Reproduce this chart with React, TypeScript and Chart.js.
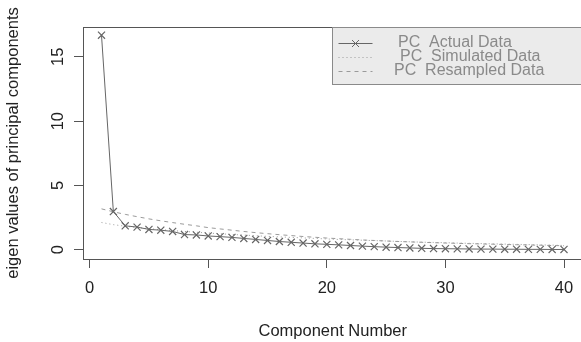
import { useEffect, useRef } from 'react';
import { Chart, registerables } from 'chart.js';

Chart.register(...registerables);

const components = [1, 2, 3, 4, 5, 6, 7, 8, 9, 10, 11, 12, 13, 14, 15, 16, 17, 18, 19, 20, 21, 22, 23, 24, 25, 26, 27, 28, 29, 30, 31, 32, 33, 34, 35, 36, 37, 38, 39, 40];
const actualData = [16.68, 2.97, 1.86, 1.76, 1.58, 1.52, 1.42, 1.18, 1.15, 1.07, 1.02, 0.96, 0.88, 0.8, 0.72, 0.64, 0.58, 0.52, 0.46, 0.42, 0.38, 0.33, 0.28, 0.24, 0.2, 0.17, 0.14, 0.11, 0.09, 0.08, 0.07, 0.06, 0.05, 0.05, 0.04, 0.04, 0.03, 0.03, 0.02, 0.02];
const simulatedData = [2.12, 1.95, 1.83, 1.73, 1.64, 1.56, 1.49, 1.42, 1.36, 1.3, 1.24, 1.19, 1.14, 1.09, 1.04, 1.0, 0.96, 0.92, 0.88, 0.84, 0.8, 0.77, 0.74, 0.71, 0.68, 0.65, 0.62, 0.59, 0.57, 0.55, 0.52, 0.5, 0.48, 0.46, 0.44, 0.42, 0.4, 0.38, 0.36, 0.33];
const resampledData = [3.18, 2.95, 2.75, 2.57, 2.4, 2.25, 2.11, 1.98, 1.86, 1.72, 1.62, 1.52, 1.42, 1.33, 1.25, 1.17, 1.1, 1.03, 0.97, 0.91, 0.86, 0.81, 0.76, 0.72, 0.68, 0.64, 0.61, 0.58, 0.55, 0.52, 0.5, 0.47, 0.45, 0.43, 0.41, 0.39, 0.37, 0.35, 0.33, 0.31];
const xTicks = [0, 10, 20, 30, 40];
const yTicks = [0, 5, 10, 15];
const legendLabels = ['PC  Actual Data', 'PC  Simulated Data', 'PC  Resampled Data'];
const xTitle = 'Component Number';
const yTitle = 'eigen values of principal components';

const FONT = "'Liberation Sans', Arial, sans-serif";
const AXIS_COLOR = '#555555';
const TEXT_COLOR = '#222222';
const ACTUAL_COLOR = '#666666';
const REF_COLOR = '#9a9a9a';

const CANVAS_W = 590;
const CANVAS_H = 342;

const boxPlugin = {
  id: 'rBox',
  afterDatasetsDraw(chart: any) {
    const { ctx, chartArea } = chart;
    ctx.save();
    ctx.strokeStyle = AXIS_COLOR;
    ctx.lineWidth = 1;
    const l = Math.round(chartArea.left) + 0.5;
    const t = Math.round(chartArea.top) + 0.5;
    const r = Math.round(chartArea.right) + 0.5;
    const b = Math.round(chartArea.bottom) + 0.5;
    ctx.strokeRect(l, t, r - l, b - t);
    ctx.restore();
  },
};

const legendPlugin = {
  id: 'rLegend',
  afterDraw(chart: any) {
    const { ctx, chartArea } = chart;
    const left = 332.5;
    const top = Math.round(chartArea.top) + 0.5;
    const right = Math.round(chartArea.right) + 0.5;
    const bottom = 84.5;
    ctx.save();
    ctx.fillStyle = '#ebebeb';
    ctx.fillRect(left, top, right - left, bottom - top);
    ctx.strokeStyle = '#8a8a8a';
    ctx.lineWidth = 1;
    ctx.strokeRect(left, top, right - left, bottom - top);

    const rowY = [top + 15, top + 29.5, top + 43.5];
    const textX = [398, 400, 394];
    const segL = left + 6;
    const segR = left + 40;
    const dashes = [[], [1, 3], [4, 4]];
    const colors = [ACTUAL_COLOR, REF_COLOR, REF_COLOR];
    for (let i = 0; i < legendLabels.length; i++) {
      ctx.strokeStyle = colors[i];
      ctx.setLineDash(dashes[i]);
      ctx.beginPath();
      ctx.moveTo(segL, Math.round(rowY[i]) + 0.5);
      ctx.lineTo(segR, Math.round(rowY[i]) + 0.5);
      ctx.stroke();
      ctx.setLineDash([]);
      if (i === 0) {
        const cx = (segL + segR) / 2;
        const cy = Math.round(rowY[i]) + 0.5;
        const d = 3.5;
        ctx.beginPath();
        ctx.moveTo(cx - d, cy - d);
        ctx.lineTo(cx + d, cy + d);
        ctx.moveTo(cx - d, cy + d);
        ctx.lineTo(cx + d, cy - d);
        ctx.stroke();
      }
      ctx.fillStyle = '#8a8a8a';
      ctx.font = `16px ${FONT}`;
      ctx.textAlign = 'left';
      ctx.textBaseline = 'middle';
      ctx.fillText(legendLabels[i], textX[i], rowY[i]);
    }
    ctx.restore();
  },
};

function App() {
  const canvasRef = useRef<HTMLCanvasElement | null>(null);

  useEffect(() => {
    const canvas = canvasRef.current;
    if (!canvas) return;
    const toPoints = (arr: number[]) => components.map((c, i) => ({ x: c, y: arr[i] }));
    const chart = new Chart(canvas, {
      type: 'line',
      data: {
        datasets: [
          {
            label: legendLabels[0],
            data: toPoints(actualData),
            borderColor: ACTUAL_COLOR,
            borderWidth: 1,
            pointStyle: 'crossRot',
            pointRadius: 5,
            pointBorderColor: ACTUAL_COLOR,
            pointBorderWidth: 1.2,
            pointBackgroundColor: ACTUAL_COLOR,
            tension: 0,
            fill: false,
          },
          {
            label: legendLabels[1],
            data: toPoints(simulatedData),
            borderColor: REF_COLOR,
            borderWidth: 1,
            borderDash: [1, 3],
            pointRadius: 0,
            tension: 0,
            fill: false,
          },
          {
            label: legendLabels[2],
            data: toPoints(resampledData),
            borderColor: REF_COLOR,
            borderWidth: 1,
            borderDash: [4, 4],
            pointRadius: 0,
            tension: 0,
            fill: false,
          },
        ],
      },
      options: {
        responsive: false,
        animation: false,
        devicePixelRatio: 1,
        layout: { padding: { left: 0, top: 27, right: CANVAS_W - 582.5, bottom: 0 } },
        plugins: {
          legend: { display: false },
          tooltip: { enabled: false },
        },
        scales: {
          x: {
            type: 'linear',
            min: -0.56,
            max: 41.56,
            afterBuildTicks: (scale: any) => {
              scale.ticks = xTicks.map((v) => ({ value: v }));
            },
            afterFit: (scale: any) => {
              scale.height = CANVAS_H - 259;
            },
            grid: { drawOnChartArea: false, drawTicks: true, tickLength: 9, color: AXIS_COLOR },
            border: { display: true, color: AXIS_COLOR },
            ticks: {
              color: TEXT_COLOR,
              font: { family: FONT, size: 16.5 },
              padding: 11,
              maxRotation: 0,
              minRotation: 0,
              autoSkip: false,
            },
            title: {
              display: true,
              text: xTitle,
              color: TEXT_COLOR,
              font: { family: FONT, size: 16.5 },
              padding: { top: 0, bottom: 1 },
            },
          },
          y: {
            type: 'linear',
            min: -0.72,
            max: 17.32,
            afterBuildTicks: (scale: any) => {
              scale.ticks = yTicks.map((v) => ({ value: v }));
            },
            afterFit: (scale: any) => {
              scale.width = 83;
            },
            grid: { drawOnChartArea: false, drawTicks: true, tickLength: 9, color: AXIS_COLOR },
            border: { display: true, color: AXIS_COLOR },
            ticks: {
              color: TEXT_COLOR,
              font: { family: FONT, size: 16.5 },
              padding: 6,
              minRotation: 90,
              maxRotation: 90,
              crossAlign: 'center',
              autoSkip: false,
            },
            title: {
              display: true,
              text: yTitle,
              color: TEXT_COLOR,
              font: { family: FONT, size: 16.5 },
              padding: { top: 3.5, bottom: 0 },
            },
          },
        },
      },
      plugins: [boxPlugin, legendPlugin],
    } as any);
    return () => chart.destroy();
  }, []);

  return (
    <div
      style={{
        position: 'fixed',
        left: 0,
        top: 0,
        width: 581,
        height: 342,
        overflow: 'hidden',
        background: '#ffffff',
      }}
    >
      <canvas
        ref={canvasRef}
        width={CANVAS_W}
        height={CANVAS_H}
        style={{ display: 'block', width: CANVAS_W, height: CANVAS_H }}
      />
    </div>
  );
}

export default App;
